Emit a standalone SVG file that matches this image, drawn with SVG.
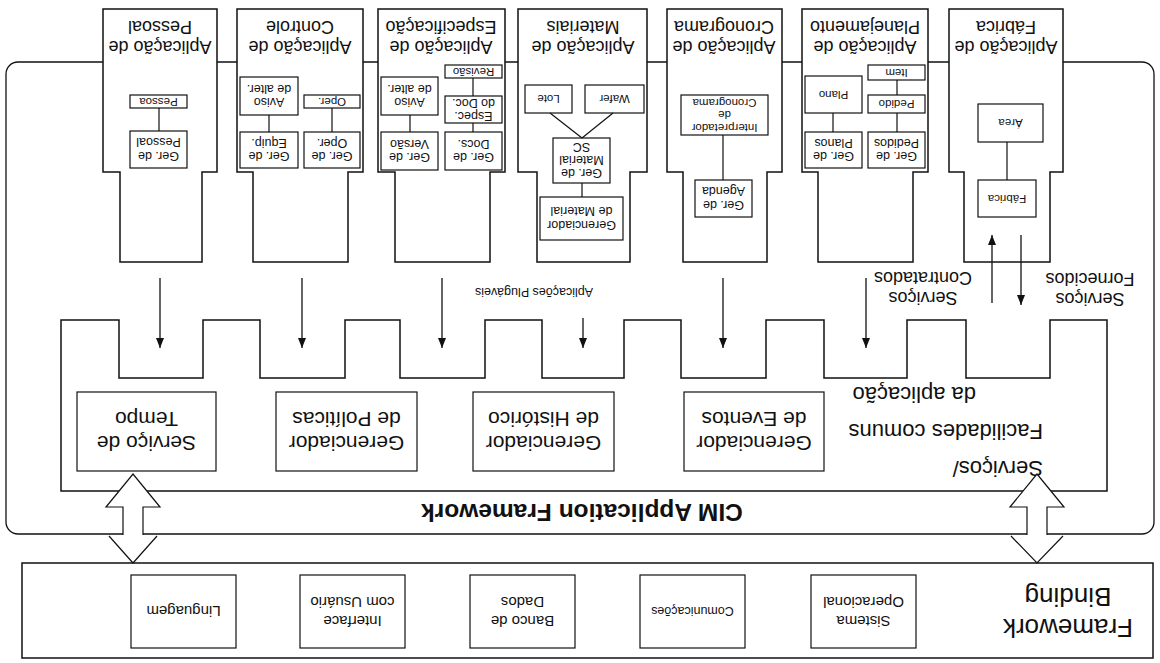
<svg xmlns="http://www.w3.org/2000/svg" width="1160" height="663" viewBox="0 0 1160 663">
<style>
text{font-family:"Liberation Sans",Arial,sans-serif;fill:#111;text-anchor:middle}
.box{fill:#fff;stroke:#111;stroke-width:1.5}
.sb{fill:#fff;stroke:#111;stroke-width:1.2}
.ln{fill:none;stroke:#111;stroke-width:1.2}
.ar{fill:none;stroke:#111;stroke-width:1.3;marker-end:url(#ah)}
.t18{font-size:18px}
.t12{font-size:12.5px}
.t11{font-size:11.5px}
.t21{font-size:21px}
.t22{font-size:22px}
.t15{font-size:15px}
.t17{font-size:18px}
.st{text-anchor:start}
</style>
<defs>
<marker id="ah" viewBox="0 0 10 8" refX="10" refY="4" markerWidth="10" markerHeight="8" markerUnits="userSpaceOnUse" orient="auto">
<path d="M0,0 L10,4 L0,8 Z" fill="#111"/>
</marker>
</defs>
<rect width="1160" height="663" fill="#fff"/>

<g id="frame">
<rect x="6" y="62" width="1148" height="472" rx="12" fill="#fff" stroke="#111" stroke-width="1.3"/>
<text transform="rotate(180 582 513)" x="582" y="521.6" style="font-size:24.5px;font-weight:bold">CIM Application Framework</text>
</g>

<g id="servicos">
<path class="box" d="M61,491 V320 H119 V378 H203 V320 H260 V378 H345 V320 H400 V378 H485 V320 H542 V378 H624 V320 H681 V378 H766 V320 H824 V378 H907 V320 H966 V378 H1050 V320 H1107 V491 Z"/>
<text class="t22 st" transform="rotate(180 1043 432)"><tspan x="1043" y="402.7">Serviços/</tspan><tspan x="1043" y="439.7">Facilidades comuns</tspan><tspan x="1110" y="476.7">da aplicação</tspan></text>
</g>
<g id="svc-tempo"><rect class="sb" x="77" y="392" width="139" height="79"/>
<text class="t21" transform="rotate(180 146.5 431.5)"><tspan x="146.5" y="426.85">Serviço de</tspan><tspan x="146.5" y="450.85">Tempo</tspan></text></g>
<g id="svc-politicas"><rect class="sb" x="276" y="392" width="141" height="79"/>
<text class="t21" transform="rotate(180 346.5 431.5)"><tspan x="346.5" y="426.85">Gerenciador</tspan><tspan x="346.5" y="450.85">de Políticas</tspan></text></g>
<g id="svc-historico"><rect class="sb" x="473" y="392" width="141" height="79"/>
<text class="t21" transform="rotate(180 543.5 431.5)"><tspan x="543.5" y="426.85">Gerenciador</tspan><tspan x="543.5" y="450.85">de Histórico</tspan></text></g>
<g id="svc-eventos"><rect class="sb" x="684" y="392" width="140" height="79"/>
<text class="t21" transform="rotate(180 754 431.5)"><tspan x="754" y="426.85">Gerenciador</tspan><tspan x="754" y="450.85">de Eventos</tspan></text></g>

<g id="app-pessoal">
<path class="box" d="M103,9 H217 V172 H202 V262 H120 V172 H103 Z"/>
<text class="t18" transform="rotate(180 160 37)"><tspan x="160" y="33.3">Aplicação de</tspan><tspan x="160" y="53.3">Pessoal</tspan></text>
<rect class="sb" x="130" y="95" width="57" height="13"/>
<text class="t11" transform="rotate(180 158.5 101.5)" x="158.5" y="105.5">Pessoa</text>
<rect class="sb" x="130" y="131" width="57" height="37"/>
<text class="t12" transform="rotate(180 158.5 149.5)"><tspan x="158.5" y="147.2">Ger. de</tspan><tspan x="158.5" y="160.7">Pessoal</tspan></text>
</g>

<g id="app-controle">
<path class="box" d="M237,9 H363 V172 H348 V262 H253 V172 H237 Z"/>
<text class="t18" transform="rotate(180 300 37)"><tspan x="300" y="33.3">Aplicação de</tspan><tspan x="300" y="53.3">Controle</tspan></text>
<rect class="sb" x="240" y="77" width="58" height="38"/>
<text class="t12" transform="rotate(180 269 96)"><tspan x="269" y="93.7">Aviso</tspan><tspan x="269" y="107.2">de alter.</tspan></text>
<rect class="sb" x="304" y="95" width="56" height="13"/>
<text class="t11" transform="rotate(180 332 101.5)" x="332" y="105.5">Oper.</text>
<rect class="sb" x="240" y="132" width="58" height="36"/>
<text class="t12" transform="rotate(180 269 150)"><tspan x="269" y="147.7">Ger. de</tspan><tspan x="269" y="161.2">Equip.</tspan></text>
<rect class="sb" x="304" y="132" width="56" height="36"/>
<text class="t12" transform="rotate(180 332 150)"><tspan x="332" y="147.7">Ger. de</tspan><tspan x="332" y="161.2">Oper.</tspan></text>
</g>

<g id="app-especificacao">
<path class="box" d="M378,9 H505 V172 H490 V262 H395 V172 H378 Z"/>
<text class="t18" transform="rotate(180 441 37)"><tspan x="441" y="33.3">Aplicação de</tspan><tspan x="441" y="53.3">Especificação</tspan></text>
<rect class="sb" x="445" y="65" width="57" height="13"/>
<text class="t11" transform="rotate(180 473.5 71.5)" x="473.5" y="75.5">Revisão</text>
<rect class="sb" x="445" y="96" width="57" height="27"/>
<text class="t12" transform="rotate(180 473.5 109.5)"><tspan x="473.5" y="107.2">Espec.</tspan><tspan x="473.5" y="120.4">do Doc.</tspan></text>
<rect class="sb" x="445" y="132" width="57" height="38"/>
<text class="t12" transform="rotate(180 473.5 151)"><tspan x="473.5" y="148.7">Ger. de</tspan><tspan x="473.5" y="162.2">Docs.</tspan></text>
<rect class="sb" x="381" y="77" width="57" height="38"/>
<text class="t12" transform="rotate(180 409.5 96)"><tspan x="409.5" y="93.7">Aviso</tspan><tspan x="409.5" y="107.2">de alter.</tspan></text>
<rect class="sb" x="381" y="132" width="57" height="38"/>
<text class="t12" transform="rotate(180 409.5 151)"><tspan x="409.5" y="148.7">Ger. de</tspan><tspan x="409.5" y="162.2">Versão</tspan></text>
</g>

<g id="app-materiais">
<path class="box" d="M518,9 H647 V172 H630 V262 H537 V172 H518 Z"/>
<text class="t18" transform="rotate(180 583 37)"><tspan x="583" y="33.3">Aplicação de</tspan><tspan x="583" y="53.3">Materiais</tspan></text>
<rect class="sb" x="585" y="85" width="59" height="28"/>
<text class="t11" transform="rotate(180 614.5 99)" x="614.5" y="103">Wafer</text>
<rect class="sb" x="525" y="85" width="47" height="28"/>
<text class="t11" transform="rotate(180 548.5 99)" x="548.5" y="103">Lote</text>
<rect class="sb" x="553" y="138" width="57" height="45"/>
<text class="t12" transform="rotate(180 581.5 160.5)"><tspan x="581.5" y="151.7">Ger. de</tspan><tspan x="581.5" y="164.9">Material</tspan><tspan x="581.5" y="178.1">SC</tspan></text>
<rect class="sb" x="540" y="197" width="83" height="43"/>
<text class="t12" transform="rotate(180 581.5 218.5)"><tspan x="581.5" y="216.2">Gerenciador</tspan><tspan x="581.5" y="229.7">de Material</tspan></text>
</g>

<g id="app-cronograma">
<path class="box" d="M667,9 H782 V172 H767 V262 H683 V172 H667 Z"/>
<text class="t18" transform="rotate(180 724 37)"><tspan x="724" y="33.3">Aplicação de</tspan><tspan x="724" y="53.3">Cronograma</tspan></text>
<rect class="sb" x="681" y="95" width="87" height="40"/>
<text class="t11" transform="rotate(180 724.5 115)"><tspan x="724.5" y="106.5">Interpretador</tspan><tspan x="724.5" y="118.7">de</tspan><tspan x="724.5" y="130.9">Cronograma</tspan></text>
<rect class="sb" x="695" y="180" width="57" height="37"/>
<text class="t12" transform="rotate(180 723.5 198.5)"><tspan x="723.5" y="196.2">Ger. de</tspan><tspan x="723.5" y="209.7">Agenda</tspan></text>
</g>

<g id="app-planejamento">
<path class="box" d="M802,9 H928 V172 H913 V262 H818 V172 H802 Z"/>
<text class="t18" transform="rotate(180 865 37)"><tspan x="865" y="33.3">Aplicação de</tspan><tspan x="865" y="53.3">Planejamento</tspan></text>
<rect class="sb" x="868" y="65" width="57" height="15"/>
<text class="t11" transform="rotate(180 896.5 72.5)" x="896.5" y="76.5">Item</text>
<rect class="sb" x="868" y="95" width="57" height="18"/>
<text class="t11" transform="rotate(180 896.5 104)" x="896.5" y="108">Pedido</text>
<rect class="sb" x="868" y="132" width="57" height="36"/>
<text class="t12" transform="rotate(180 896.5 150)"><tspan x="896.5" y="147.7">Ger. de</tspan><tspan x="896.5" y="161.2">Pedidos</tspan></text>
<rect class="sb" x="805" y="76" width="57" height="37"/>
<text class="t11" transform="rotate(180 833.5 94.5)" x="833.5" y="98.5">Plano</text>
<rect class="sb" x="805" y="132" width="57" height="36"/>
<text class="t12" transform="rotate(180 833.5 150)"><tspan x="833.5" y="147.7">Ger. de</tspan><tspan x="833.5" y="161.2">Planos</tspan></text>
</g>

<g id="app-fabrica">
<path class="box" d="M949,9 H1063 V172 H1050 V262 H964 V172 H949 Z"/>
<text class="t18" transform="rotate(180 1006 37)"><tspan x="1006" y="33.3">Aplicação de</tspan><tspan x="1006" y="53.3">Fábrica</tspan></text>
<rect class="sb" x="978" y="104" width="65" height="38"/>
<text class="t11" transform="rotate(180 1010.5 123)" x="1010.5" y="127">Área</text>
<rect class="sb" x="978" y="180" width="58" height="37"/>
<text class="t11" transform="rotate(180 1007 198.5)" x="1007" y="202.5">Fábrica</text>
</g>

<g id="framework-binding">
<rect class="box" x="22" y="563" width="1131" height="95"/>
<text transform="rotate(180 1068 612)" style="font-size:26px"><tspan x="1068" y="605.1">Framework</tspan><tspan x="1068" y="636.1">Binding</tspan></text>
</g>
<g id="fb-linguagem"><rect class="sb" x="131" y="575" width="105" height="73"/>
<text class="t15" transform="rotate(180 183.5 611.5)" x="183.5" y="616.75">Linguagem</text></g>
<g id="fb-interface"><rect class="sb" x="300" y="575" width="105" height="73"/>
<text class="t15" transform="rotate(180 352.5 611.5)"><tspan x="352.5" y="607.25">Interface</tspan><tspan x="352.5" y="626.25">com Usuário</tspan></text></g>
<g id="fb-banco"><rect class="sb" x="470" y="575" width="105" height="73"/>
<text class="t15" transform="rotate(180 522.5 611.5)"><tspan x="522.5" y="607.25">Banco de</tspan><tspan x="522.5" y="626.25">Dados</tspan></text></g>
<g id="fb-comunicacoes"><rect class="sb" x="640" y="575" width="105" height="73"/>
<text class="t12" transform="rotate(180 692.5 611.5)" x="692.5" y="615.9">Comunicações</text></g>
<g id="fb-sistema"><rect class="sb" x="811" y="575" width="105" height="73"/>
<text class="t15" transform="rotate(180 863.5 611.5)"><tspan x="863.5" y="607.25">Sistema</tspan><tspan x="863.5" y="626.25">Operacional</tspan></text></g>

<g id="labels">
<text transform="rotate(180 534 292)" x="534" y="296.4" style="font-size:12.5px">Aplicações Plugáveis</text>
<text class="t17" transform="rotate(180 923 288)"><tspan x="923" y="284">Serviços</tspan><tspan x="923" y="304">Contratados</tspan></text>
<text class="t17" transform="rotate(180 1090 289)"><tspan x="1090" y="285">Serviços</tspan><tspan x="1090" y="305">Fornecidos</tspan></text>
</g>

<g id="connectors">
<path class="ln" d="M159,108 V131 M269,115 V132 M332,108 V132 M473,78 V96 M473,123 V132 M410,115 V132 M550,113 L582,138 M613,113 L582,138 M582,183 V197 M723,135 V180 M897,80 V95 M897,113 V132 M833,113 V132 M1007,142 V180"/>
<path class="ar" d="M160,278 V348"/>
<path class="ar" d="M302,278 V348"/>
<path class="ar" d="M442,278 V348"/>
<path class="ar" d="M583,318 V348"/>
<path class="ar" d="M723,278 V348"/>
<path class="ar" d="M866,278 V348"/>
<path class="ar" d="M1021,235 V305"/>
<path class="ar" d="M992,303 V235"/>
<path d="M133,474 L160,507 L143,507 L143,536 L123,536 L123,507 L106,507 Z" fill="#fff"/>
<path class="ln" d="M123,535 V507 H106 L133,474 L160,507 H143 V535"/>
<path class="ln" d="M109,536 L133,563 L157,536" stroke-width="1"/>
<path d="M1037,474 L1064,507 L1047,507 L1047,536 L1027,536 L1027,507 L1010,507 Z" fill="#fff"/>
<path class="ln" d="M1027,535 V507 H1010 L1037,474 L1064,507 H1047 V535"/>
<path class="ln" d="M1011,536 L1037,563 L1063,536" stroke-width="1"/>
</g>
</svg>
